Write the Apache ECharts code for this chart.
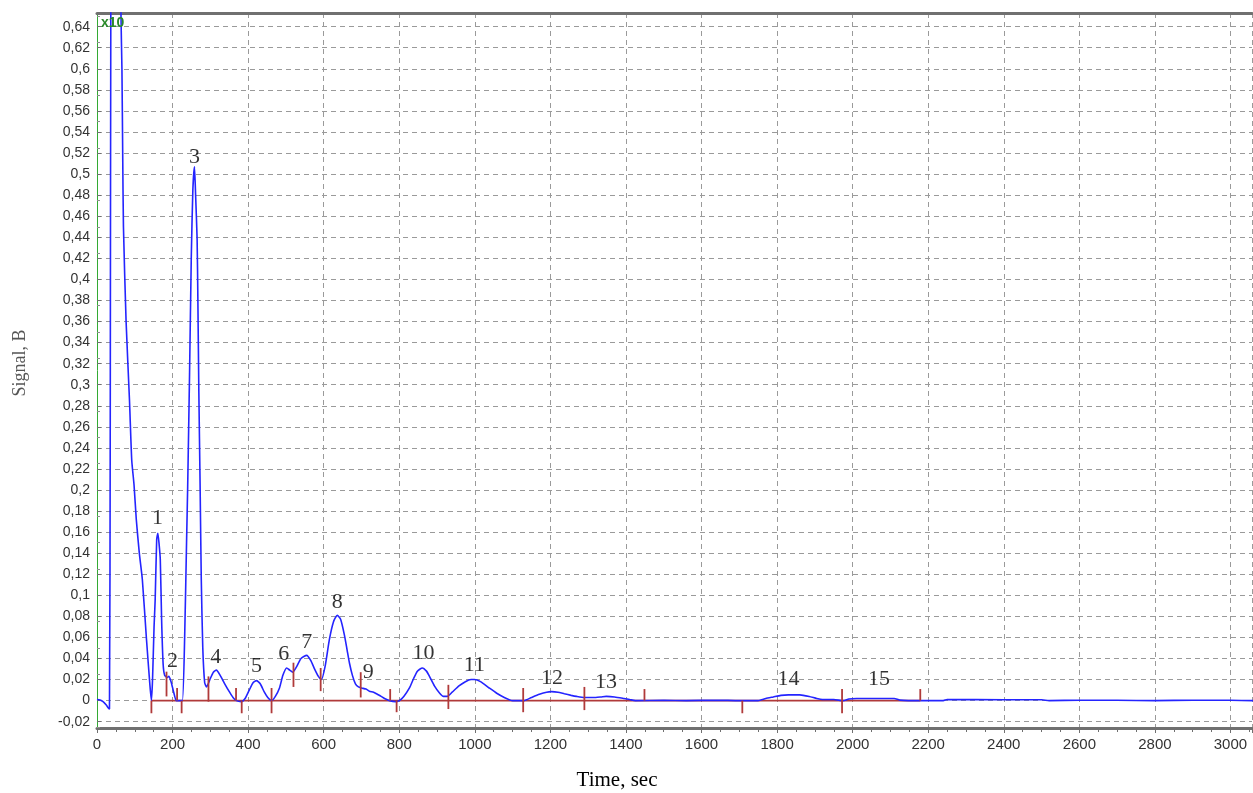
<!DOCTYPE html>
<html><head><meta charset="utf-8">
<script src="https://cdn.jsdelivr.net/npm/echarts@6/dist/echarts.min.js"></script>
<style>html,body{margin:0;padding:0;background:#fff}#c{width:1253px;height:793px}</style>
</head><body><div id="c"></div>
<script>
// Signal trace (time in sec, signal in B)
const time = [0,8,16,24,30,33,35,37,45,58,62,63.5,66,68,70,77,86,92,98,104,112,120,131,140,144,147,151,154,158,161,164,167.5,171,175,179,186,190,196,203,210,218,226,232,237,240,245,249.5,253.7,258,261,265,267,269.6,272.8,276,280,285,290,300,308,316,326,338,351,360,369,382,392,403,413,422,432,443,452,462,472,483,492,502,510,518,528,540,555,566,576,586,594,604,615,626,636,645,655,662,668,676,684,692,700,712,721,732,742,752,761,774,790,800,812,827,838,848,861,872,880,893,907,917,927,940,958,975,990,999,1015,1038,1058,1078,1100,1130,1150,1171,1190,1203,1220,1237,1255,1269,1290,1320,1335,1348,1370,1395,1410,1425,1500,1560,1640,1700,1750,1770,1790,1810,1830,1860,1885,1905,1920,1950,1975,1990,2010,2060,2110,2125,2180,2240,2250,2400,2500,2520,2600,2700,2800,2900,3000,3060];
const signal = [0.001,0.0005,-0.001,-0.004,-0.007,-0.008,0.25,0.75,1.4,1.2,0.8,0.65,0.60,0.52,0.45,0.36,0.285,0.228,0.205,0.172,0.14,0.115,0.058,0.015,0.0,0.02,0.07,0.096,0.153,0.159,0.15,0.134,0.077,0.035,0.024,0.022,0.023,0.018,0.008,0.0,0.0,0.0,0.06,0.15,0.203,0.311,0.42,0.485,0.507,0.48,0.438,0.38,0.292,0.207,0.115,0.05,0.017,0.013,0.021,0.027,0.029,0.024,0.016,0.008,0.003,0.0,-0.001,0.002,0.01,0.017,0.019,0.016,0.008,0.003,0.0,0.004,0.012,0.024,0.031,0.029,0.027,0.032,0.040,0.043,0.038,0.030,0.023,0.020,0.033,0.058,0.075,0.081,0.077,0.062,0.048,0.036,0.024,0.016,0.013,0.012,0.011,0.009,0.008,0.006,0.004,0.002,0.0,-0.001,0.0,0.004,0.012,0.021,0.028,0.031,0.028,0.023,0.014,0.007,0.004,0.004,0.008,0.014,0.018,0.020,0.020,0.018,0.012,0.007,0.003,0.0,0.0,0.003,0.006,0.008,0.0085,0.008,0.0065,0.005,0.004,0.003,0.003,0.0035,0.004,0.0035,0.002,0.001,0.0,0.0003,0.0,0.0004,0.0,0.0,0.002,0.0035,0.005,0.0055,0.0055,0.004,0.002,0.001,0.001,0.0,0.0015,0.002,0.002,0.002,0.0005,0.0,0.0,0.001,0.0008,0.0008,0.0,0.0004,0.0003,0.0,0.0004,0.0003,0.0];

// Peak labels
const peakNames = ['1','2','3','4','5','6','7','8','9','10','11','12','13','14','15'];
const peakTimes = [160,200,258,314,422,494,555,636,718,864,999,1204,1347,1830,2070];
const peakHeights = [0.1595,0.0237,0.503,0.0275,0.019,0.031,0.042,0.080,0.0133,0.032,0.020,0.0076,0.0038,0.0066,0.0066];

// Peak boundary markers (time, lower and upper value)
const markTimes = [144,184,212,224,295,368,383,462,520,592,698,776,793,930,1128,1290,1449,1708,1972,2179];
const markLow   = [-0.012,0.004,0,-0.012,-0.001,0,-0.012,-0.012,0.013,0.009,0.003,0,-0.011,-0.008,-0.011,-0.009,0,-0.012,-0.012,0];
const markHigh  = [0,0.0275,0.012,0,0.023,0.012,0,0.012,0.036,0.031,0.027,0.011,0,0.015,0.012,0.013,0.011,0,0.011,0.011];
const baselineTimes = [144,2179];
const baselineValues = [0,0];

// Axis ticks
const yTicks = [-0.02,0,0.02,0.04,0.06,0.08,0.1,0.12,0.14,0.16,0.18,0.2,0.22,0.24,0.26,0.28,0.3,0.32,0.34,0.36,0.38,0.4,0.42,0.44,0.46,0.48,0.5,0.52,0.54,0.56,0.58,0.6,0.62,0.64];
const xMin = 0, xMax = 3057, xStep = 200;
const yMin = -0.026, yMax = 0.653;

const chart = echarts.init(document.getElementById('c'), null, {renderer:'canvas'});
const dash = {color:'#9a9a9a', width:1, type:[5,4]};
const fmt = v => String(Math.round(v*100)/100).replace('.', ',');

chart.setOption({
  animation:false,
  backgroundColor:'#ffffff',
  grid:{left:97, right:1, top:13, bottom:65},
  xAxis:[{
    type:'value', min:xMin, max:xMax, interval:xStep,
    axisLine:{show:true, onZero:false, lineStyle:{color:'#707070', width:3}},
    axisTick:{show:true, length:5, lineStyle:{color:'#707070'}},
    minorTick:{show:true, splitNumber:4, length:4, lineStyle:{color:'#707070'}},
    axisLabel:{color:'#333', fontSize:15, fontFamily:'Liberation Sans, Arial, sans-serif', margin:9, showMaxLabel:false, formatter:v=>String(Math.round(v))},
    splitLine:{show:true, lineStyle:dash}
  },{
    type:'value', position:'top', min:xMin, max:xMax, interval:xStep,
    axisLine:{show:true, onZero:false, lineStyle:{color:'#707070', width:3}},
    axisTick:{show:false}, axisLabel:{show:false}, splitLine:{show:false}
  }],
  yAxis:{
    type:'value', min:yMin, max:yMax,
    axisLine:{show:true, onZero:false, lineStyle:{color:'#33aa33', width:1}},
    axisTick:{show:true, inside:true, length:4, customValues:yTicks, lineStyle:{color:'#707070'}},
    minorTick:{show:true, splitNumber:4, length:3, lineStyle:{color:'#909090'}},
    axisLabel:{customValues:yTicks, formatter:fmt, color:'#333', fontSize:14, fontFamily:'Liberation Sans, Arial, sans-serif', margin:7},
    splitLine:{show:true, lineStyle:dash}
  },
  graphic:[
    {type:'text', left:101, top:16, style:{text:'x10', fill:'#2a8a2a', font:'bold 14px Liberation Sans, Arial, sans-serif'}, z:100},
    {type:'text', x:617, y:780, style:{text:'Time, sec', fill:'#000', font:'21px Liberation Serif, Times New Roman, serif', textAlign:'center', textVerticalAlign:'middle'}},
    {type:'text', x:20, y:363, rotation:Math.PI/2, style:{text:'Signal, B', fill:'#555', font:'18px Liberation Serif, Times New Roman, serif', textAlign:'center', textVerticalAlign:'middle'}}
  ],
  series:[
    {type:'line', name:'baseline', data:baselineTimes.map((t,i)=>[t,baselineValues[i]]), symbol:'none',
     lineStyle:{color:'#b03a3a', width:1.6}, z:2, silent:true},
    {type:'line', name:'signal', data:time.map((t,i)=>[t,signal[i]]), symbol:'none', smooth:0.2, clip:true,
     lineStyle:{color:'#2424ff', width:1.6}, z:3},
    {type:'custom', name:'marks', z:4, silent:true,
     data:markTimes.map((t,i)=>[t,markLow[i],markHigh[i]]),
     renderItem:(params, api)=>{
       const a = api.coord([api.value(0), api.value(1)]);
       const b = api.coord([api.value(0), api.value(2)]);
       return {type:'line', shape:{x1:a[0], y1:a[1], x2:b[0], y2:b[1]}, style:{stroke:'#b03a3a', lineWidth:1.8}};
     }},
    {type:'scatter', name:'labels', z:5, symbolSize:0, silent:true,
     data:peakTimes.map((t,i)=>({value:[t,peakHeights[i]], name:peakNames[i]})),
     label:{show:true, position:'top', distance:3, formatter:p=>p.name, color:'#000', fontSize:22, fontFamily:'Liberation Serif, Times New Roman, serif'}}
  ]
});
</script></body></html>
